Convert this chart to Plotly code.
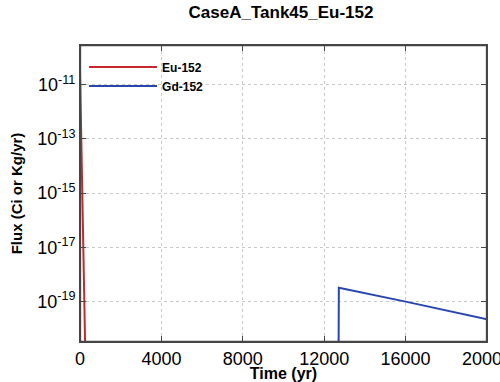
import plotly.graph_objects as go

# Data
eu_time = [0, 60, 120, 180, 240, 270]
eu_flux = [3.5e-11, 1.5e-13, 6e-16, 2.5e-18, 1e-20, 5e-22]

gd_time = [12700, 12720, 16000, 20000]
gd_flux = [1e-22, 3.2e-19, 9.8e-20, 2.2e-20]

x_ticks = [0, 4000, 8000, 12000, 16000, 20000]
y_tickvals = [1e-11, 1e-13, 1e-15, 1e-17, 1e-19]
y_ticktext = ["10<sup>-11</sup>", "10<sup>-13</sup>", "10<sup>-15</sup>",
              "10<sup>-17</sup>", "10<sup>-19</sup>"]

fig = go.Figure()
fig.add_trace(go.Scatter(x=eu_time, y=eu_flux, mode="lines", name="<b>Eu-152</b>",
                         line=dict(color="rgb(200,40,45)", width=2)))
fig.add_trace(go.Scatter(x=gd_time, y=gd_flux, mode="lines", name="<b>Gd-152</b>",
                         line=dict(color="rgb(40,70,175)", width=2)))

font_family = "Liberation Sans, Arial, sans-serif"
axis_color = "rgb(70,70,70)"
fig.update_layout(
    width=500, height=382,
    margin=dict(l=80, r=13, t=45, b=40, autoexpand=False),
    paper_bgcolor="white", plot_bgcolor="white",
    title=dict(text="<b>CaseA_Tank45_Eu-152</b>", x=0.562, xanchor="center",
               y=0.968, yanchor="middle",
               font=dict(family=font_family, size=17, color="black")),
    font=dict(family=font_family, color="black"),
    showlegend=True,
    legend=dict(x=0.01, y=0.975, xanchor="left", yanchor="top",
                bgcolor="rgba(0,0,0,0)", itemwidth=68, tracegroupgap=0,
                font=dict(family=font_family, size=12, color="black")),
    shapes=[dict(type="rect", xref="paper", yref="paper",
                 x0=0.001, x1=0.999, y0=0.002, y1=0.998,
                 line=dict(color=axis_color, width=1.5),
                 fillcolor="rgba(0,0,0,0)", layer="above")],
)
fig.update_xaxes(
    range=[0, 20000], tickvals=x_ticks, ticktext=[str(v) for v in x_ticks],
    ticks="inside", ticklen=6, tickwidth=1, tickcolor=axis_color,
    showline=True, linecolor=axis_color, linewidth=1, mirror="ticks",
    showgrid=True, gridcolor="#c8c8c8", griddash="dot",
    zeroline=False, automargin=False, ticklabeloverflow="allow",
    tickfont=dict(size=18, color="black"),
    title=dict(text="<b>Time (yr)</b>", font=dict(size=16, color="black"), standoff=0),
)
fig.update_yaxes(
    type="log", range=[-20.5, -9.53], tickvals=y_tickvals, ticktext=y_ticktext,
    ticks="inside", ticklen=6, tickwidth=1, tickcolor=axis_color,
    showline=True, linecolor=axis_color, linewidth=1, mirror="ticks",
    showgrid=True, gridcolor="#c8c8c8", griddash="dot",
    zeroline=False, automargin=False,
    tickfont=dict(size=18, color="black"),
    title=dict(text="<b>Flux (Ci or Kg/yr)</b>", font=dict(size=15, color="black"), standoff=10),
)

fig.write_html("out.html", config={"displayModeBar": False},
               post_script="document.body.style.margin='0';")
